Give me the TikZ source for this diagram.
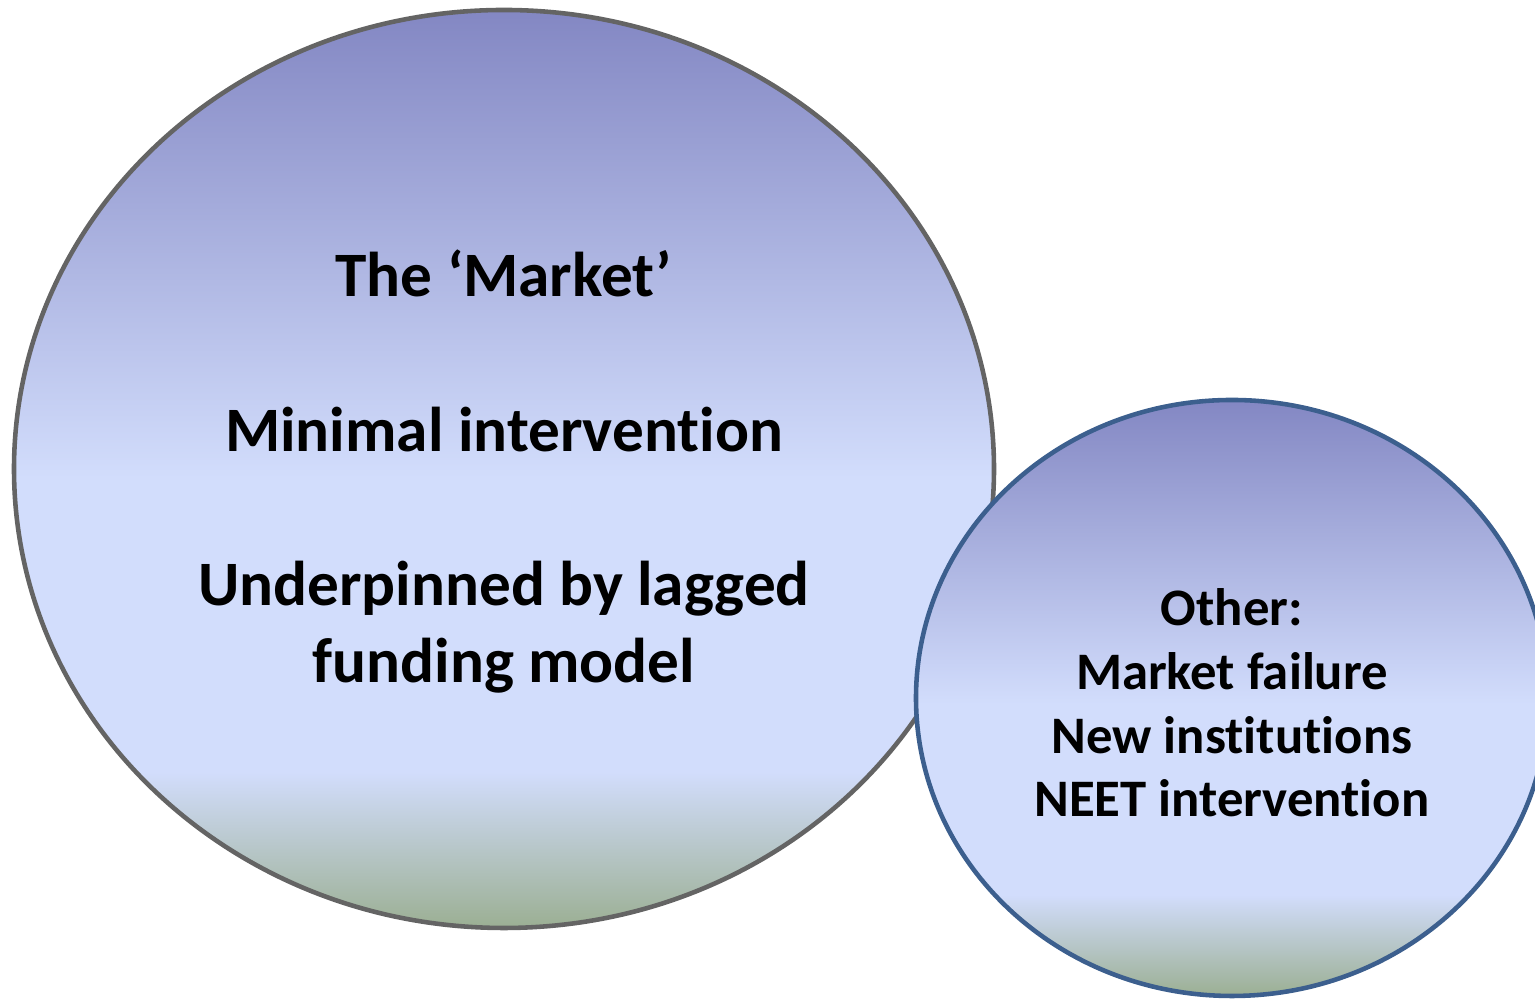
\documentclass[tikz,border=0pt]{standalone}
\usepackage{fontspec}
\setmainfont{Carlito}[Ligatures={NoCommon}]
\usepackage{tikz}
\usetikzlibrary{shapes.geometric}
\definecolor{shadetop}{HTML}{8387C3}
\definecolor{shademid}{HTML}{D2DDFC}
\definecolor{shadebottom}{HTML}{9BAF93}
\definecolor{rimgray}{HTML}{646464}
\definecolor{rimblue}{HTML}{3C5F8E}
\pgfdeclareverticalshading{bubbleshade}{100bp}{color(0bp)=(shadebottom); color(25bp)=(shadebottom); color(33.5bp)=(shademid); color(49.5bp)=(shademid); color(75bp)=(shadetop); color(100bp)=(shadetop)}
\tikzstyle{bubble}=[ellipse, inner sep=0pt, shading=bubbleshade, line width=1.3pt]
\tikzstyle{bigbubble}=[bubble, draw=rimgray, minimum width=9.8cm, minimum height=9.18cm]
\tikzstyle{smallbubble}=[bubble, draw=rimblue, minimum width=6.32cm, minimum height=5.96cm]
\tikzstyle{bigtext}=[align=center, inner sep=0pt, anchor=base, font=\fontsize{18}{22}\selectfont\bfseries]
\tikzstyle{smalltext}=[align=center, inner sep=0pt, anchor=base, font=\fontsize{15}{18.2}\selectfont\bfseries]

\begin{document}
\begin{tikzpicture}
		   \useasboundingbox (0,0) rectangle (15.35,10);
		   \begin{scope}
			   \node (market) at (5.04, 5.31)[bigbubble] {};
			   \node (markettext) at (5.04, 3.17)[bigtext] {The ‘Market’\\[22pt]Minimal intervention\\[22pt]Underpinned by lagged\\funding model};
		   \end{scope}
		   \begin{scope}
			   \node (other) at (12.32, 3.02)[smallbubble] {};
			   \node (othertext) at (12.32, 1.83)[smalltext] {Other:\\Market failure\\New institutions\\NEET intervention};
		   \end{scope}
\end{tikzpicture}
\end{document}
